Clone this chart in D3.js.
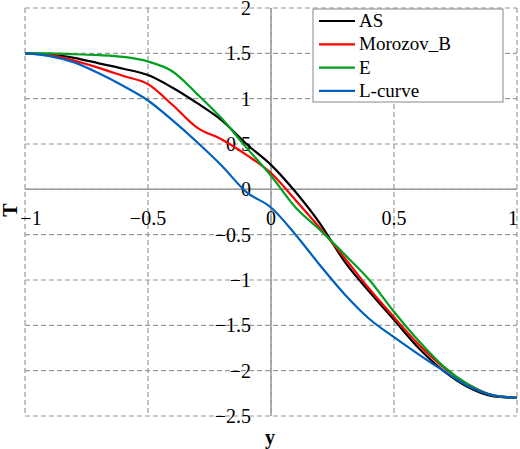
<!DOCTYPE html><html><head><meta charset="utf-8"><script src="https://cdn.jsdelivr.net/npm/d3@7"></script>
<style>body{margin:0;background:#fff}text{font-family:"Liberation Serif","Times New Roman",serif}</style></head><body><svg id="c" width="520" height="449"></svg>
<script>
const xs=[-1,-0.9,-0.8,-0.7,-0.6,-0.5,-0.4,-0.3,-0.2,-0.1,0,0.1,0.2,0.3,0.4,0.5,0.6,0.7,0.8,0.9,1];
const AS=[1.5,1.49,1.45,1.39,1.33,1.26,1.12,0.95,0.76,0.5,0.27,-0.03,-0.38,-0.8,-1.13,-1.44,-1.75,-2.0,-2.18,-2.28,-2.3];
const MB=[1.5,1.48,1.42,1.34,1.25,1.16,0.93,0.68,0.55,0.38,0.18,-0.12,-0.43,-0.76,-1.1,-1.41,-1.71,-1.96,-2.15,-2.27,-2.3];
const E=[1.5,1.5,1.49,1.48,1.46,1.41,1.3,1.05,0.78,0.46,0.15,-0.2,-0.45,-0.72,-1.0,-1.35,-1.67,-1.95,-2.15,-2.27,-2.3];
const LC=[1.5,1.47,1.4,1.28,1.14,0.98,0.76,0.52,0.26,-0.03,-0.2,-0.5,-0.84,-1.16,-1.43,-1.63,-1.82,-2.0,-2.17,-2.27,-2.3];
const series=[{name:"AS",v:AS,c:"#000000"},{name:"Morozov_B",v:MB,c:"#ff0000"},{name:"E",v:E,c:"#00a020"},{name:"L-curve",v:LC,c:"#0060c0"}];
const xTicks=[-1,-0.5,0,0.5,1], yTicks=[2,1.5,1,0.5,0,-0.5,-1,-1.5,-2,-2.5];
const svg=d3.select("#c");
const x=d3.scaleLinear().domain([-1,1]).range([25,517]);
const y=d3.scaleLinear().domain([-2.5,2]).range([416,8]);
const g=svg.append("g");
xTicks.forEach(t=>g.append("line").attr("x1",x(t)).attr("x2",x(t)).attr("y1",y(2)).attr("y2",y(-2.5)).attr("stroke","#999").attr("stroke-dasharray","5,3").attr("stroke-width",1.2));
yTicks.forEach(t=>g.append("line").attr("y1",y(t)).attr("y2",y(t)).attr("x1",x(-1)).attr("x2",x(1)).attr("stroke","#999").attr("stroke-dasharray","5,3").attr("stroke-width",1.2));
g.append("line").attr("x1",x(0)).attr("x2",x(0)).attr("y1",y(2)).attr("y2",y(-2.5)).attr("stroke","#999").attr("stroke-width",1.5);
g.append("line").attr("y1",y(0)).attr("y2",y(0)).attr("x1",x(-1)).attr("x2",x(1)).attr("stroke","#999").attr("stroke-width",1.5);
const fmt=t=>String(t).replace("-","\u2212");
yTicks.forEach(t=>svg.append("text").attr("x",x(0)-20).attr("y",y(t)+7).attr("text-anchor","end").attr("font-size",20).text(fmt(t)));
xTicks.forEach(t=>svg.append("text").attr("x",t===1?x(t)-4:x(t)+(t===-1?6:0)).attr("y",y(0)+36).attr("text-anchor","middle").attr("font-size",20).text(fmt(t)));
const line=d3.line().x((d,i)=>x(xs[i])).y(d=>y(d)).curve(d3.curveMonotoneX);
series.forEach(s=>svg.append("path").attr("d",line(s.v)).attr("fill","none").attr("stroke",s.c).attr("stroke-width",2.2));
const lg=svg.append("g");
lg.append("rect").attr("x",313).attr("y",9).attr("width",190).attr("height",93).attr("fill","#fff").attr("stroke","#888");
series.forEach((s,i)=>{const yy=21+i*23.3;lg.append("line").attr("x1",319).attr("x2",355).attr("y1",yy).attr("y2",yy).attr("stroke",s.c).attr("stroke-width",2.2);
lg.append("text").attr("x",359).attr("y",yy+6).attr("font-size",19).text(s.name);});
svg.append("text").attr("x",270).attr("y",444).attr("text-anchor","middle").attr("font-size",20).attr("font-weight","bold").text("y");
svg.append("text").attr("transform","translate(17,210) rotate(-90)").attr("text-anchor","middle").attr("font-size",20).attr("font-weight","bold").text("T");
</script></body></html>
